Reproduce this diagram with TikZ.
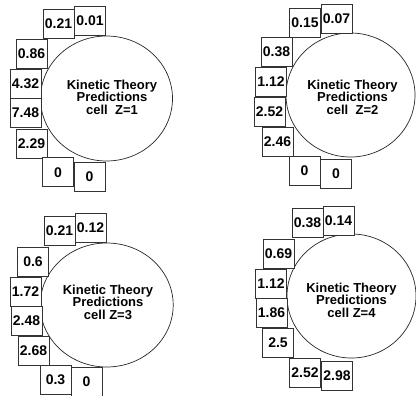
\documentclass[tikz,border=0pt]{standalone}
\usepackage{fontspec}
\setmainfont{Liberation Sans}
\usepackage{tikz}
\usetikzlibrary{shapes.geometric}

\tikzset{
  valbox/.style={draw=black!80, fill=white, line width=0.7pt, minimum width=31pt, minimum height=29pt, inner sep=0pt, font=\fontsize{14}{14}\selectfont\bfseries},
  cellring/.style={ellipse, draw=black!85, line width=0.7pt, inner sep=0pt},
  celltext/.style={align=center, font=\fontsize{13}{12.5}\selectfont\bfseries}
}

\begin{document}
\begin{tikzpicture}[x=1pt,y=-1pt]
\useasboundingbox (0,0) rectangle (416,396);

% cell Z=1
\node[cellring, minimum width=132pt, minimum height=125pt] (ring1) at (106.5,98.5) {};
\node[celltext] (txt1) at (112,97) {Kinetic Theory\\Predictions\\cell\ \ Z=1};
\foreach \x/\y/\v [count=\i] in {58.5/24/0.21, 90/21/0.01, 31.5/54/0.86, 25.5/84/4.32,
  25.5/113/7.48, 31.5/143.5/2.29, 58/172.3/0, 89.5/177/0} {
  \node[valbox] (val1-\i) at (\x,\y) {\v};
}

% cell Z=2
\node[cellring, minimum width=129pt, minimum height=124pt] (ring2) at (350.5,95) {};
\node[celltext] (txt2) at (352.5,97) {Kinetic Theory\\Predictions\\cell\ \ Z=2};
\foreach \x/\y/\v [count=\i] in {305/22.5/0.15, 336.5/19/0.07, 276.5/51.5/0.38, 271/82/1.12,
  269.5/112/2.52, 277.5/142/2.46, 304.5/170.5/0, 336/173.5/0} {
  \node[valbox] (val2-\i) at (\x,\y) {\v};
}

% cell Z=3
\node[cellring, minimum width=133pt, minimum height=124pt] (ring3) at (106.7,305) {};
\node[celltext] (txt3) at (108,302) {Kinetic Theory\\Predictions\\cell Z=3};
\foreach \x/\y/\v [count=\i] in {59.5/230.5/0.21, 90.5/227.5/0.12, 33/261.5/0.6, 25.5/291.5/1.72,
  26.5/320.5/2.48, 33.5/350.5/2.68, 55.5/379.5/0.3, 86.5/381.5/0} {
  \node[valbox] (val3-\i) at (\x,\y) {\v};
}

% cell Z=4
\node[cellring, minimum width=129pt, minimum height=124pt] (ring4) at (351.5,296) {};
\node[celltext] (txt4) at (351.5,300) {Kinetic Theory\\Predictions\\cell Z=4};
\foreach \x/\y/\v [count=\i] in {307.5/223/0.38, 338.5/220.5/0.14, 278.5/253.5/0.69, 271/283.5/1.12,
  271.5/313/1.86, 278/343/2.5, 305/372.5/2.52, 337/375.5/2.98} {
  \node[valbox] (val4-\i) at (\x,\y) {\v};
}
\end{tikzpicture}
\end{document}
